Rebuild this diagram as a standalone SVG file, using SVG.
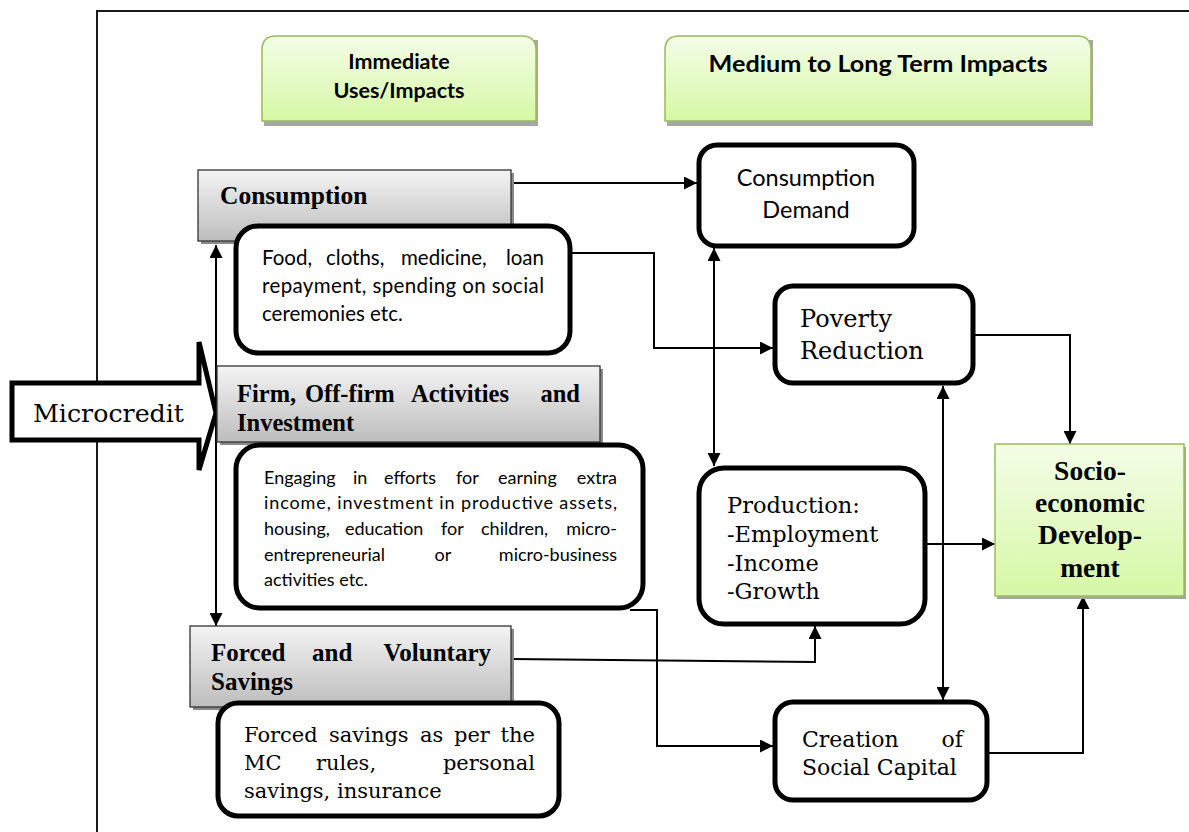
<svg xmlns="http://www.w3.org/2000/svg" width="1189" height="832" viewBox="0 0 1189 832">
<defs>
<linearGradient id="gGreen" x1="0" y1="0" x2="0" y2="1"><stop offset="0" stop-color="#f4fde8"/><stop offset="1" stop-color="#d6f8a4"/></linearGradient>
<linearGradient id="gGray" x1="0" y1="0" x2="0" y2="1"><stop offset="0" stop-color="#f4f4f4"/><stop offset="1" stop-color="#bdbdbd"/></linearGradient>
<marker id="ah" viewBox="0 0 10 10" refX="10" refY="5" markerWidth="14" markerHeight="13" markerUnits="userSpaceOnUse" orient="auto-start-reverse"><path d="M0,0 L10,5 L0,10 z" fill="#000"/></marker>
<style>
.frame{fill:none;stroke:#1a1a1a;stroke-width:2}
.hdr{fill:url(#gGreen);stroke:#9bbb59;stroke-width:1.5}
.hsh{fill:#a6a6a6}
.gray{fill:url(#gGray);stroke:#333;stroke-width:1.3}
.gsh{fill:#8a8a8a}
.rbox{fill:#fff;stroke:#000;stroke-width:5}
.sed{fill:url(#gGreen);stroke:#9bbb59;stroke-width:1.5}
.conn{fill:none;stroke:#000;stroke-width:2}
.sansb{font-family:Lato,"Open Sans","Liberation Sans",sans-serif;font-weight:bold;fill:#000}
.sans{font-family:Lato,"Open Sans","Liberation Sans",sans-serif;fill:#000}
.serb{font-family:"Liberation Serif","DejaVu Serif",serif;font-weight:bold;fill:#000}
.ser{font-family:"DejaVu Serif","Liberation Serif",serif;fill:#000}
</style>
</defs>
<rect width="1189" height="832" fill="#fff"/>
<rect class="frame" x="97" y="11" width="1200" height="900"/>

<g id="hdr-immediate">
<rect class="hsh" x="264" y="40" width="274" height="86"/>
<path class="hdr" d="M262,121 V50 Q262,36 276,36 H522 Q536,36 536,50 V121 Z"/>
<text class="sansb" font-size="21.5" text-anchor="middle" x="399" y="69">Immediate</text>
<text class="sansb" font-size="21.5" text-anchor="middle" x="399" y="98">Uses/Impacts</text>
</g>
<g id="hdr-medium">
<rect class="hsh" x="667" y="40" width="426" height="86"/>
<path class="hdr" d="M665,121 V50 Q665,36 679,36 H1077 Q1091,36 1091,50 V121 Z"/>
<text class="sansb" font-size="22.5" text-anchor="middle" x="878" y="72" textLength="339" lengthAdjust="spacingAndGlyphs">Medium to Long Term Impacts</text>
</g>

<g id="connectors">
<path class="conn" d="M511,183 H697" marker-end="url(#ah)"/>
<path class="conn" d="M572,253 H654 V348 H773" marker-end="url(#ah)"/>
<path class="conn" d="M714,248 V466" marker-start="url(#ah)" marker-end="url(#ah)"/>
<path class="conn" d="M975,335 H1070 V444" marker-end="url(#ah)"/>
<path class="conn" d="M943,386 V700" marker-start="url(#ah)" marker-end="url(#ah)"/>
<path class="conn" d="M927,544 H995" marker-end="url(#ah)"/>
<path class="conn" d="M511,659 L815,662 V626" marker-end="url(#ah)"/>
<path class="conn" d="M630,610 H657 V746 H773" marker-end="url(#ah)"/>
<path class="conn" d="M987,753 H1083 V596" marker-end="url(#ah)"/>
<path class="conn" d="M216,245 V626" marker-start="url(#ah)" marker-end="url(#ah)"/>
</g>

<g id="microcredit">
<polygon points="12,383 199,383 199,342 216,413 199,470 199,440 12,440" fill="#fff" stroke="#000" stroke-width="5"/>
<text class="ser" font-size="25" x="33" y="422" textLength="151" lengthAdjust="spacingAndGlyphs">Microcredit</text>
</g>

<g id="consumption">
<rect class="gsh" x="201" y="173" width="313" height="71"/>
<rect class="gray" x="198" y="170" width="313" height="71"/>
<text class="serb" font-size="25.5" x="220" y="204">Consumption</text>
</g>
<g id="consumption-detail">
<rect class="rbox" x="236" y="226" width="334" height="127" rx="22"/>
<text class="sans" font-size="20.5" y="265"><tspan x="262">Food,</tspan><tspan x="326">cloths,</tspan><tspan x="401">medicine,</tspan><tspan x="544" text-anchor="end">loan</tspan></text>
<text class="sans" font-size="20.5" x="262" y="293" textLength="282" lengthAdjust="spacing">repayment, spending on social</text>
<text class="sans" font-size="20.5" x="262" y="321">ceremonies etc.</text>
</g>

<g id="firm">
<rect class="gsh" x="220" y="369" width="383" height="76"/>
<rect class="gray" x="217" y="366" width="383" height="76"/>
<text class="serb" font-size="24.5" y="402"><tspan x="237">Firm,</tspan><tspan x="305">Off-firm</tspan><tspan x="411">Activities</tspan><tspan x="580" text-anchor="end">and</tspan></text>
<text class="serb" font-size="24.5" x="237" y="431">Investment</text>
</g>
<g id="firm-detail">
<rect class="rbox" x="236" y="445" width="407" height="163" rx="24"/>
<text class="sans" font-size="18" y="484"><tspan x="264">Engaging</tspan><tspan x="353">in</tspan><tspan x="384">efforts</tspan><tspan x="456">for</tspan><tspan x="498">earning</tspan><tspan x="617" text-anchor="end">extra</tspan></text>
<text class="sans" font-size="18" x="264" y="509" textLength="353" lengthAdjust="spacing">income, investment in productive assets,</text>
<text class="sans" font-size="18" y="535"><tspan x="264">housing,</tspan><tspan x="345">education</tspan><tspan x="441">for</tspan><tspan x="481">children,</tspan><tspan x="617" text-anchor="end">micro-</tspan></text>
<text class="sans" font-size="18" y="561"><tspan x="264">entrepreneurial</tspan><tspan x="443" text-anchor="middle">or</tspan><tspan x="617" text-anchor="end">micro-business</tspan></text>
<text class="sans" font-size="18" x="264" y="586">activities etc.</text>
</g>

<g id="savings">
<rect class="gsh" x="193" y="629" width="321" height="81"/>
<rect class="gray" x="190" y="626" width="321" height="81"/>
<text class="serb" font-size="25" y="661"><tspan x="211">Forced</tspan><tspan x="312">and</tspan><tspan x="491" text-anchor="end">Voluntary</tspan></text>
<text class="serb" font-size="25" x="211" y="690">Savings</text>
</g>
<g id="savings-detail">
<rect class="rbox" x="218" y="703" width="341" height="113" rx="20"/>
<text class="ser" font-size="21" y="742"><tspan x="244">Forced</tspan><tspan x="329">savings</tspan><tspan x="420">as</tspan><tspan x="454">per</tspan><tspan x="535" text-anchor="end">the</tspan></text>
<text class="ser" font-size="21" y="770"><tspan x="244">MC</tspan><tspan x="346" text-anchor="middle">rules,</tspan><tspan x="535" text-anchor="end">personal</tspan></text>
<text class="ser" font-size="21" x="244" y="798">savings, insurance</text>
</g>

<g id="consumption-demand">
<rect class="rbox" x="699" y="145" width="215" height="101" rx="18"/>
<text class="sans" font-size="23.5" text-anchor="middle" x="806" y="186">Consumption</text>
<text class="sans" font-size="23.5" text-anchor="middle" x="806" y="218">Demand</text>
</g>
<g id="poverty-reduction">
<rect class="rbox" x="775" y="286" width="198" height="97" rx="18"/>
<text class="ser" font-size="24" x="800" y="327">Poverty</text>
<text class="ser" font-size="24" x="800" y="359">Reduction</text>
</g>
<g id="production">
<rect class="rbox" x="699" y="468" width="226" height="156" rx="25"/>
<text class="ser" font-size="22.5" x="727" y="513">Production:</text>
<text class="ser" font-size="22.5" x="727" y="542">-Employment</text>
<text class="ser" font-size="22.5" x="727" y="571">-Income</text>
<text class="ser" font-size="22.5" x="727" y="599">-Growth</text>
</g>
<g id="social-capital">
<rect class="rbox" x="775" y="702" width="212" height="98" rx="18"/>
<text class="ser" font-size="22" y="747"><tspan x="802">Creation</tspan><tspan x="963" text-anchor="end">of</tspan></text>
<text class="ser" font-size="22" x="802" y="775">Social Capital</text>
</g>
<g id="socio-economic-development">
<rect class="hsh" x="997" y="447" width="189" height="152"/>
<rect class="sed" x="995" y="444" width="189" height="152"/>
<text class="serb" font-size="27.5" text-anchor="middle" x="1090" y="480">Socio-</text>
<text class="serb" font-size="27.5" text-anchor="middle" x="1090" y="512">economic</text>
<text class="serb" font-size="27.5" text-anchor="middle" x="1090" y="544">Develop-</text>
<text class="serb" font-size="27.5" text-anchor="middle" x="1090" y="577">ment</text>
</g>
</svg>
